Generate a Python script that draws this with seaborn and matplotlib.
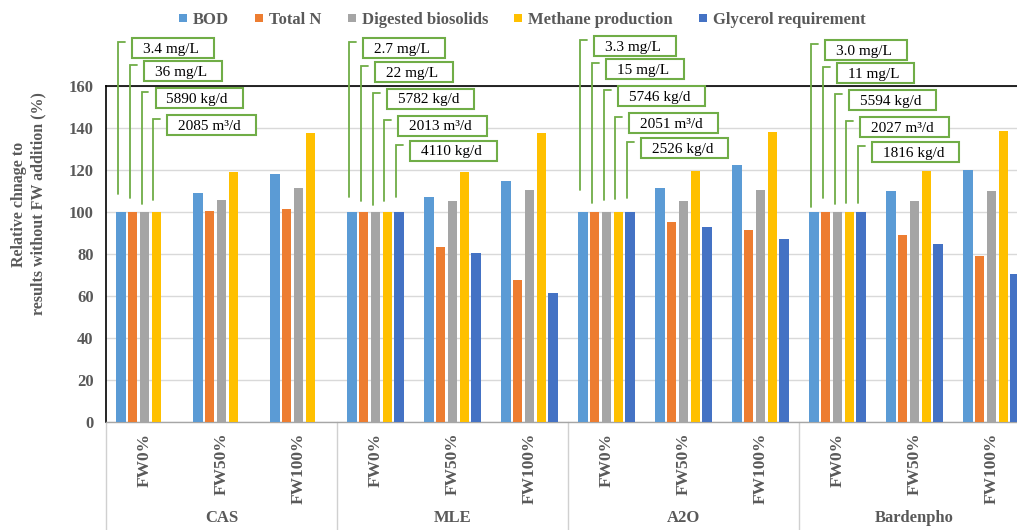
import numpy as np
import pandas as pd
import matplotlib
matplotlib.use("Agg")
import matplotlib.pyplot as plt
import seaborn as sns
from matplotlib.lines import Line2D
from matplotlib.patches import Rectangle
from matplotlib.transforms import blended_transform_factory

# ---- data -------------------------------------------------------------
processes = ["CAS", "MLE", "A2O", "Bardenpho"]
fw_levels = ["FW0%", "FW50%", "FW100%"]
metrics = ["BOD", "Total N", "Digested biosolids", "Methane production",
           "Glycerol requirement"]
colors = ["#5B9BD5", "#ED7D31", "#A5A5A5", "#FFC000", "#4472C4"]

# values per process x FW level (CAS FW0..FW100, MLE ..., A2O ..., Bardenpho ...)
bod = [100, 108.8, 117.8, 100, 107.2, 114.6, 100, 111.1, 122.2, 100, 109.7, 119.9]
total_n = [100, 100.3, 101.3, 100, 83.3, 67.5, 100, 95.2, 91.3, 100, 89.1, 78.9]
biosolids = [100, 105.7, 111.4, 100, 105.2, 110.3, 100, 105.1, 110.3, 100, 105.1, 110.0]
methane = [100, 119.0, 137.3, 100, 118.8, 137.3, 100, 119.2, 137.9, 100, 119.2, 138.4]
glycerol = [np.nan, np.nan, np.nan, 100, 80.3, 61.1, 100, 92.9, 87.2, 100, 84.6, 70.3]

# absolute baseline values (FW0%) shown in the callouts
cas_base = ["3.4 mg/L", "36 mg/L", "5890 kg/d", "2085 m\u00b3/d"]
mle_base = ["2.7 mg/L", "22 mg/L", "5782 kg/d", "2013 m\u00b3/d", "4110 kg/d"]
a2o_base = ["3.3 mg/L", "15 mg/L", "5746 kg/d", "2051 m\u00b3/d", "2526 kg/d"]
bard_base = ["3.0 mg/L", "11 mg/L", "5594 kg/d", "2027 m\u00b3/d", "1816 kg/d"]
baselines = [cas_base, mle_base, a2o_base, bard_base]

# where each callout leader line ends (chart units)
cas_leader_end = [108.4, 106.5, 103.7, 105.6]
mle_leader_end = [107.0, 105.1, 103.2, 105.1, 107.0]
a2o_leader_end = [110.3, 104.2, 105.6, 106.0, 106.5]
bard_leader_end = [102.2, 106.5, 103.7, 104.2, 104.2]
leader_ends = [cas_leader_end, mle_leader_end, a2o_leader_end, bard_leader_end]

# ---- long-form table ---------------------------------------------------
clusters = [f"{p} {f}" for p in processes for f in fw_levels]
series = [bod, total_n, biosolids, methane, glycerol]
rows = []
for m, vals in zip(metrics, series):
    for c, v in zip(clusters, vals):
        if not np.isnan(v):
            rows.append({"cluster": c, "metric": m, "value": v})
df = pd.DataFrame(rows)

# ---- styling -----------------------------------------------------------
sns.set_theme(style="white")
plt.rcParams["font.family"] = ["Liberation Serif", "DejaVu Serif"]
text_gray = "#595959"
green = "#70AD47"

W, H = 1017, 530
fig = plt.figure(figsize=(W / 100, H / 100), dpi=100)
ax = fig.add_axes([106 / W, 108.3 / H, 924 / W, 336 / H])

group_width = 0.76
n_hue = len(metrics)
sns.barplot(data=df, x="cluster", y="value", hue="metric",
            order=clusters, hue_order=metrics, palette=colors,
            width=group_width, gap=0.2, saturation=1, errorbar=None,
            linewidth=0, legend=False, ax=ax, zorder=3)

ax.set_xlim(-0.5, len(clusters) - 0.5)
ax.set_ylim(0, 160)
ax.set_yticks(np.arange(0, 161, 20))
ax.yaxis.grid(True, color="#D9D9D9", lw=1.0, zorder=0)
ax.xaxis.grid(False)
ax.set_axisbelow(True)
for side in ["top", "left", "right"]:
    ax.spines[side].set_color("black")
    ax.spines[side].set_linewidth(1.2)
ax.spines["bottom"].set_color("#A6A6A6")
ax.spines["bottom"].set_linewidth(1.0)

ax.set_xlabel("")
ax.set_ylabel("")
ax.set_xticks(range(len(clusters)))
ax.set_xticklabels([f for p in processes for f in fw_levels], rotation=90,
                   fontsize=12.5, fontweight="bold", color=text_gray)
ax.tick_params(axis="x", length=0, pad=8)
ax.tick_params(axis="y", length=0, pad=9, labelsize=12, labelcolor=text_gray)
for t in ax.get_yticklabels():
    t.set_fontweight("bold")

# category separators and process names below the axis
bt = blended_transform_factory(ax.transData, ax.transAxes)
n_fw = len(fw_levels)
for g in range(len(processes) + 1):
    xs = g * n_fw - 0.5
    ax.plot([xs, xs], [0, -0.33], transform=bt, color="#D0D0D0", lw=1.0,
            clip_on=False, zorder=1)
for g, p in enumerate(processes):
    ax.text(g * n_fw + (n_fw - 1) / 2, -0.288, p, transform=bt,
            ha="center", va="center", fontsize=12, fontweight="bold",
            color=text_gray)

# y-axis title
fig.text(28.5 / W, 1 - 204 / H,
         "Relative chnage to\nresults without FW addition (%)",
         rotation=90, ha="center", va="center", multialignment="center",
         fontsize=11.5, fontweight="bold", color=text_gray, linespacing=1.3)

# legend
handles = [Line2D([], [], marker="s", ls="", markersize=5.5, color=c,
                  markeredgewidth=0) for c in colors]
fig.legend(handles, metrics, loc="center", bbox_to_anchor=(522 / W, 1 - 20 / H),
           ncol=5, frameon=False, handlelength=0.5, handletextpad=0.35,
           columnspacing=1.55, labelcolor=text_gray,
           prop={"family": "Liberation Serif", "weight": "bold", "size": 12})

# ---- callouts with baseline values --------------------------------------
fig.canvas.draw()
renderer = fig.canvas.get_renderer()
inv = ax.transData.inverted()


def px_to_data(xp, yp_from_top):
    return inv.transform((xp, H - yp_from_top))


def data_to_px(xd, yd):
    xp, yp = ax.transData.transform((xd, yd))
    return xp, H - yp


slot = group_width / n_hue
row_tops = [38, 61, 88, 115, 140]       # box top edges, px from top
group_shift = [0, 0.5, -2, 2]
box_h = 20

for g, (labels, ends) in enumerate(zip(baselines, leader_ends)):
    cluster = g * n_fw
    for k, (txt, yend) in enumerate(zip(labels, ends)):
        xbar = cluster + (k - (n_hue - 1) / 2) * slot
        xl_px, _ = data_to_px(xbar, 0)
        xl_px -= 3
        top_px = row_tops[k] + group_shift[g]
        lead_top = top_px + 4
        # leader: vertical drop plus a short tick toward the box
        (x0, y0) = px_to_data(xl_px, lead_top)
        (x1, _) = px_to_data(xl_px + 7, lead_top)
        ax.plot([x1, x0, x0], [y0, y0, yend], color=green, lw=1.3,
                clip_on=False, zorder=4, solid_joinstyle="miter")
        # text and framed box
        box_left = xl_px + 14
        tx, ty = px_to_data(box_left + 11, top_px + box_h / 2)
        t = ax.text(tx, ty, txt, ha="left", va="center_baseline", fontsize=11,
                    color="black", clip_on=False, zorder=6)
        tw = t.get_window_extent(renderer).width
        bx, by = px_to_data(box_left, top_px + box_h)
        bx2, by2 = px_to_data(box_left + tw + 26, top_px)
        ax.add_patch(Rectangle((bx, by), bx2 - bx, by2 - by, fc="white",
                               ec=green, lw=1.5, clip_on=False, zorder=5))

fig.savefig("out.png", dpi=100)
